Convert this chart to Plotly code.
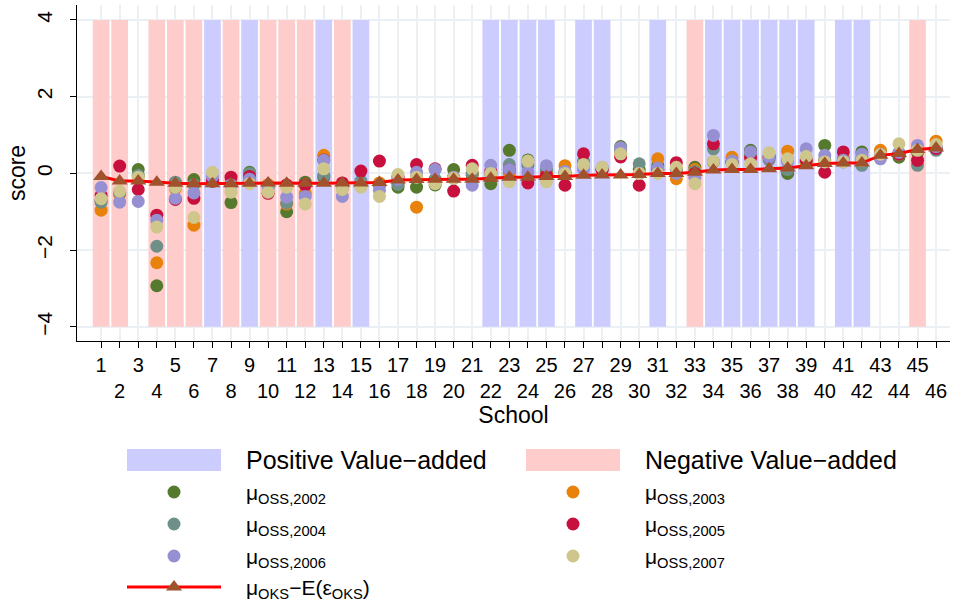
import plotly.graph_objects as go

# ---------------- data ----------------
schools = list(range(1, 47))
positive_schools = [7, 9, 13, 15, 22, 23, 24, 25, 27, 28, 31, 34, 35, 36, 37, 38, 39, 41, 42]
negative_schools = [1, 2, 4, 5, 6, 8, 10, 11, 12, 14, 33, 45]
band_low, band_high = -4, 4

oss_2002 = [-0.70, -0.50, 0.10, -2.93, -0.25, -0.16, -0.20, -0.76, 0.03, -0.30, -1.00, -0.23, -0.10, -0.30, -0.30, -0.30,
            -0.36, -0.36, -0.30, 0.10, -0.05, -0.27, 0.60, 0.35, 0.05, 0.00, 0.30, 0.10, 0.70, 0.10, 0.20, 0.10,
            0.16, 0.30, 0.30, 0.60, 0.45, 0.00, 0.30, 0.73, 0.35, 0.56, 0.55, 0.42, 0.55, 0.65]
oss_2003 = [-0.96, -0.55, -0.08, -2.33, -0.40, -1.35, -0.20, -0.25, -0.15, -0.30, -0.80, -0.52, 0.47, -0.30, -0.25, -0.25,
            -0.27, -0.88, -0.20, -0.10, 0.00, 0.00, 0.00, 0.25, 0.00, 0.20, 0.20, 0.10, 0.50, 0.00, 0.38, -0.14,
            0.10, 0.30, 0.42, 0.45, 0.40, 0.58, 0.30, 0.35, 0.40, 0.40, 0.60, 0.50, 0.60, 0.84]
oss_2004 = [-0.75, -0.50, -0.05, -1.90, -0.23, -0.30, -0.20, -0.30, 0.00, -0.35, -0.77, -0.30, -0.05, -0.35, -0.20, -0.30,
            -0.29, -0.10, -0.15, -0.13, 0.00, 0.00, 0.23, 0.20, 0.10, 0.00, 0.30, 0.10, 0.60, 0.25, 0.10, 0.10,
            0.05, 0.64, 0.30, 0.50, 0.35, 0.10, 0.35, 0.35, 0.30, 0.21, 0.50, 0.50, 0.21, 0.60]
oss_2005 = [-0.57, 0.19, -0.42, -1.09, -0.68, -0.65, -0.20, -0.10, -0.08, -0.52, -0.30, -0.30, 0.35, -0.25, 0.06, 0.32,
            -0.10, 0.23, 0.12, -0.46, 0.21, 0.05, 0.10, -0.25, -0.05, -0.31, 0.51, 0.10, 0.43, -0.31, 0.10, 0.28,
            0.00, 0.77, 0.30, 0.40, 0.42, 0.35, 0.35, 0.03, 0.56, 0.35, 0.50, 0.50, 0.34, 0.65]
oss_2006 = [-0.37, -0.75, -0.73, -1.22, -0.65, -0.51, -0.08, -0.30, -0.15, -0.40, -0.62, -0.60, 0.34, -0.60, -0.30, -0.44,
            -0.15, 0.03, 0.10, -0.10, -0.31, 0.21, 0.10, 0.03, 0.20, 0.05, 0.10, 0.16, 0.67, 0.00, 0.14, 0.00,
            -0.10, 0.99, 0.32, 0.56, 0.42, 0.30, 0.64, 0.47, 0.34, 0.50, 0.38, 0.55, 0.73, 0.70]
oss_2007 = [-0.66, -0.46, -0.10, -1.40, -0.36, -1.15, 0.03, -0.49, -0.27, -0.49, -0.36, -0.80, 0.12, -0.42, -0.36, -0.60,
            -0.03, -0.10, -0.27, -0.13, 0.12, 0.00, -0.22, 0.32, -0.22, 0.00, 0.23, 0.16, 0.51, 0.00, 0.00, 0.16,
            -0.27, 0.31, 0.23, 0.25, 0.54, 0.38, 0.44, 0.30, 0.30, 0.34, 0.50, 0.77, 0.60, 0.75]
oks_adj = [-0.08, -0.20, -0.20, -0.23, -0.26, -0.27, -0.27, -0.27, -0.26, -0.25, -0.26, -0.26, -0.26, -0.25, -0.25, -0.24,
           -0.17, -0.16, -0.15, -0.15, -0.15, -0.13, -0.10, -0.10, -0.08, -0.08, -0.05, -0.04, -0.04, -0.03, 0.00, 0.00,
           0.03, 0.09, 0.10, 0.10, 0.12, 0.14, 0.20, 0.26, 0.27, 0.27, 0.47, 0.52, 0.62, 0.66]

tick_text = [str(s) if s % 2 == 1 else "<br>" + str(s) for s in schools]
y_ticks = [-4, -2, 0, 2, 4]

series = [
    ("2002", oss_2002, "#557A2E"),
    ("2003", oss_2003, "#E8820A"),
    ("2004", oss_2004, "#6E9088"),
    ("2005", oss_2005, "#C8103E"),
    ("2006", oss_2006, "#9690D2"),
    ("2007", oss_2007, "#CFC68B"),
]
POS_COL = "#CCCCFF"
NEG_COL = "#FFCCCC"
LINE_COL = "#FF0000"
TRI_COL = "#A0522D"

FONT = "Liberation Sans, Arial, sans-serif"
W, H = 955, 607
L, R, T, B = 77, 5, 5, 0
PLOT_BOTTOM_PX = 341

fig = go.Figure()

# bands
fig.add_trace(go.Bar(x=positive_schools, y=[band_high - band_low] * len(positive_schools), base=band_low,
                     width=0.9, marker=dict(color=POS_COL, line=dict(width=0)), showlegend=False,
                     xaxis="x", yaxis="y"))
fig.add_trace(go.Bar(x=negative_schools, y=[band_high - band_low] * len(negative_schools), base=band_low,
                     width=0.9, marker=dict(color=NEG_COL, line=dict(width=0)), showlegend=False,
                     xaxis="x", yaxis="y"))

for name, vals, col in series:
    fig.add_trace(go.Scatter(x=schools, y=vals, mode="markers",
                             marker=dict(color=col, size=13, line=dict(width=0)),
                             showlegend=False, xaxis="x", yaxis="y"))

fig.add_trace(go.Scatter(x=schools, y=oks_adj, mode="lines+markers",
                         line=dict(color=LINE_COL, width=3),
                         marker=dict(symbol="triangle-up", size=14, color=TRI_COL, line=dict(width=0)),
                         showlegend=False, xaxis="x", yaxis="y"))

# ---------------- manual legend (pixel-based overlay axis) ----------------
LEG_TOP = 430
leg_left_x = [174, 573]
leg_text_x = [244, 643]
swatch = [(127, 221), (526, 620)]
row_y = [460, 492, 524, 556, 587]

fig.add_trace(go.Scatter(x=[leg_left_x[i % 2] for i in range(6)],
                         y=[row_y[1 + i // 2] for i in range(6)],
                         mode="markers",
                         marker=dict(color=[c for _, _, c in series], size=13, line=dict(width=0)),
                         showlegend=False, xaxis="x2", yaxis="y2", hoverinfo="skip"))
fig.add_trace(go.Scatter(x=[swatch[0][0], leg_left_x[0], swatch[0][1]], y=[row_y[4]] * 3,
                         mode="lines", line=dict(color=LINE_COL, width=3),
                         showlegend=False, xaxis="x2", yaxis="y2", hoverinfo="skip"))
fig.add_trace(go.Scatter(x=[leg_left_x[0]], y=[row_y[4]], mode="markers",
                         marker=dict(symbol="triangle-up", size=14, color=TRI_COL),
                         showlegend=False, xaxis="x2", yaxis="y2", hoverinfo="skip"))

shapes = []
for (x0, x1), col in zip(swatch, [POS_COL, NEG_COL]):
    shapes.append(dict(type="rect", xref="x2", yref="y2", x0=x0, x1=x1, y0=row_y[0] - 11, y1=row_y[0] + 11,
                       fillcolor=col, line=dict(width=0), layer="below"))

annotations = []
big_font = dict(family=FONT, size=25, color="black")
mu_font = dict(family=FONT, size=21, color="black")
annotations.append(dict(text="Positive Value\u2212added", x=leg_text_x[0], y=row_y[0], xref="x2", yref="y2",
                        xanchor="left", yanchor="middle", showarrow=False, font=big_font))
annotations.append(dict(text="Negative Value\u2212added", x=leg_text_x[1], y=row_y[0], xref="x2", yref="y2",
                        xanchor="left", yanchor="middle", showarrow=False, font=big_font))
for i, (name, _, _) in enumerate(series):
    annotations.append(dict(text="\u03bc<sub>OSS," + name + "</sub>", x=leg_text_x[i % 2], y=row_y[1 + i // 2] + 2,
                            xref="x2", yref="y2", xanchor="left", yanchor="middle", showarrow=False,
                            font=mu_font))
annotations.append(dict(text="\u03bc<sub>OKS</sub>\u2212E(\u03b5<sub>OKS</sub>)", x=leg_text_x[0], y=row_y[4] + 2,
                        xref="x2", yref="y2", xanchor="left", yanchor="middle", showarrow=False, font=mu_font))

plot_h = H - T - B
y_dom0 = (H - PLOT_BOTTOM_PX - B) / plot_h
leg_dom1 = (H - LEG_TOP - B) / plot_h

fig.update_layout(
    width=W, height=H,
    margin=dict(l=L, r=R, t=T, b=B, pad=0),
    paper_bgcolor="white", plot_bgcolor="white",
    font=dict(family=FONT, color="black"),
    barmode="overlay",
    showlegend=False,
    shapes=shapes,
    annotations=annotations,
    xaxis=dict(domain=[0, 1], anchor="y", range=[-0.3, 46.75],
               tickmode="array", tickvals=schools, ticktext=tick_text, tickangle=0,
               ticks="outside", ticklen=6, tickwidth=1, tickcolor="black",
               tickfont=dict(size=20, family=FONT),
               showline=True, linecolor="black", linewidth=1,
               showgrid=True, gridcolor="#EAF0F3", gridwidth=2, zeroline=False,
               title=dict(text="School", font=dict(size=23, family=FONT), standoff=0)),
    yaxis=dict(domain=[y_dom0, 1], anchor="x", range=[-4.37, 4.39],
               tickmode="array", tickvals=y_ticks, tickangle=-90, ticklabelstandoff=10,
               ticks="outside", ticklen=6, tickwidth=1, tickcolor="black",
               tickfont=dict(size=21, family=FONT),
               showline=True, linecolor="black", linewidth=1,
               showgrid=True, gridcolor="#EAF0F3", gridwidth=2, zeroline=False,
               title=dict(text="score", font=dict(size=23, family=FONT), standoff=0)),
    xaxis2=dict(domain=[0, 1], anchor="y2", range=[L, W - R], visible=False, fixedrange=True),
    yaxis2=dict(domain=[0, leg_dom1], anchor="x2", range=[H - B, LEG_TOP], visible=False, fixedrange=True),
)

fig.write_html("out.html")
